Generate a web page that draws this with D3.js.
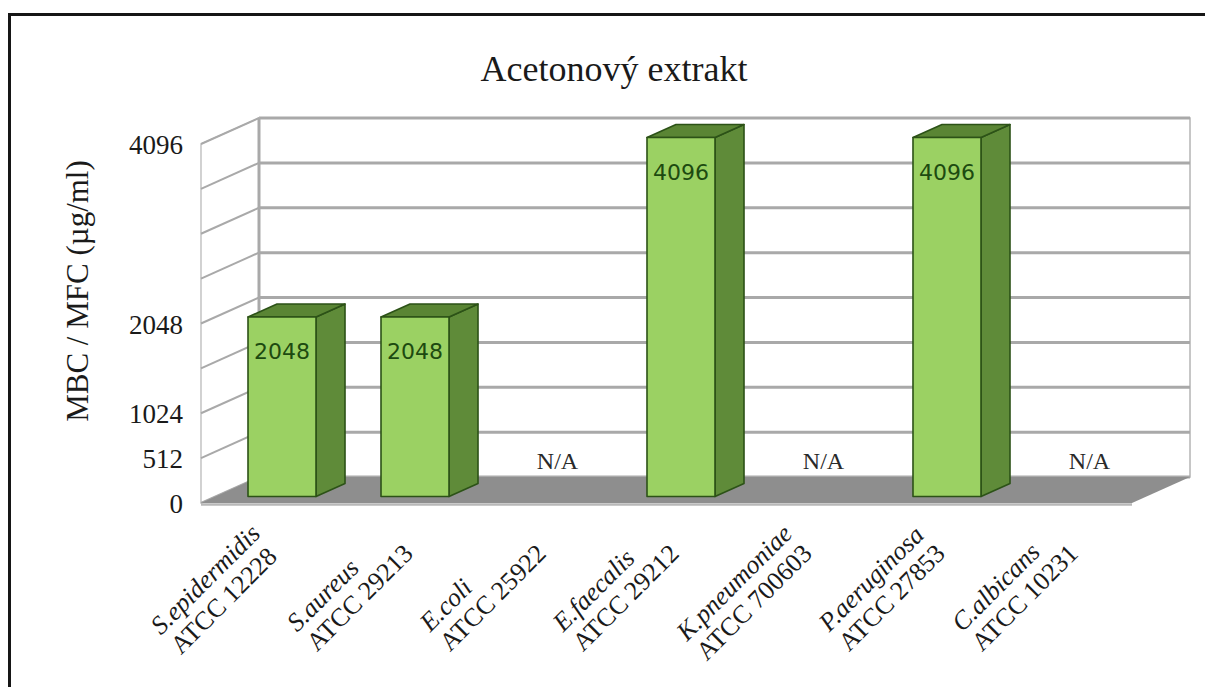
<!DOCTYPE html>
<html>
<head>
<meta charset="utf-8">
<script src="https://cdn.jsdelivr.net/npm/d3@7"></script>
<style>
  html, body { margin: 0; padding: 0; background: #fff; }
  svg { display: block; }
</style>
</head>
<body>
<svg id="chart" width="1205" height="687"></svg>
<script>
// ---- data ----
const species = ["S.epidermidis", "S.aureus", "E.coli", "E.faecalis", "K.pneumoniae", "P.aeruginosa", "C.albicans"];
const strains = ["ATCC 12228", "ATCC 29213", "ATCC 25922", "ATCC 29212", "ATCC 700603", "ATCC 27853", "ATCC 10231"];
const values = [2048, 2048, null, 4096, null, 4096, null];
const gridTicks = [0, 512, 1024, 1536, 2048, 2560, 3072, 3584, 4096];
const tickLabels = [0, 512, 1024, 2048, 4096];
const titleText = "Acetonový extrakt";
const yTitleText = "MBC / MFC (µg/ml)";
const naText = "N/A";

// ---- layout ----
const svg = d3.select("#chart");
const serif = "'Liberation Serif', 'Times New Roman', serif";
const sans = "'DejaVu Sans', sans-serif";

const x = d3.scaleBand().domain(species).range([201, 1132]).paddingInner(0.4887).paddingOuter(0.2444);
const y = d3.scaleLinear().domain([0, 4096]).range([503, 144]);
const depthX = d3.scaleLinear().domain([0, 1]).range([0, 58]);
const depthY = d3.scaleLinear().domain([0, 1]).range([0, -26]);

const [x0, x1] = x.range();
const dX = depthX(1), dY = depthY(1);

// outer frame
svg.append("rect").attr("x", 9.5).attr("y", 14.5).attr("width", 1400).attr("height", 900)
  .attr("fill", "none").attr("stroke", "#161616").attr("stroke-width", 3);

// title
svg.append("text").attr("x", 614).attr("y", 81).attr("text-anchor", "middle")
  .attr("font-family", serif).attr("font-size", 36).attr("fill", "#1a1a1a").text(titleText);

// y axis title
svg.append("text").attr("transform", "translate(88,291) rotate(-90)").attr("text-anchor", "middle")
  .attr("font-family", serif).attr("font-size", 31).attr("fill", "#1a1a1a").text(yTitleText);

const grid = "#a9a9a9";

// back wall
svg.append("rect").attr("x", x0 + dX).attr("y", y(4096) + dY).attr("width", x1 - x0).attr("height", y(0) - y(4096))
  .attr("fill", "#fff").attr("stroke", "#b4b4b4").attr("stroke-width", 1.5);
svg.append("g").selectAll("line").data(gridTicks).join("line")
  .attr("x1", x0 + dX).attr("x2", x1 + dX)
  .attr("y1", d => y(d) + dY).attr("y2", d => y(d) + dY)
  .attr("stroke", grid).attr("stroke-width", 3);

// left wall
svg.append("polygon")
  .attr("points", [[x0, y(0)], [x0 + dX, y(0) + dY], [x0 + dX, y(4096) + dY], [x0, y(4096)]].map(p => p.join(",")).join(" "))
  .attr("fill", "#fff").attr("stroke", "#b4b4b4").attr("stroke-width", 1.2);
svg.append("g").selectAll("line").data(gridTicks).join("line")
  .attr("x1", x0).attr("x2", x0 + dX)
  .attr("y1", d => y(d)).attr("y2", d => y(d) + dY)
  .attr("stroke", grid).attr("stroke-width", 2);
svg.append("line").attr("x1", x0 + dX).attr("x2", x0 + dX).attr("y1", y(0) + dY).attr("y2", y(4096) + dY)
  .attr("stroke", grid).attr("stroke-width", 3);

// floor
svg.append("polygon")
  .attr("points", [[x0, y(0)], [x1, y(0)], [x1 + dX, y(0) + dY], [x0 + dX, y(0) + dY]].map(p => p.join(",")).join(" "))
  .attr("fill", "#8e8e8e");
svg.append("line").attr("x1", x0).attr("x2", x1).attr("y1", y(0) + 1.5).attr("y2", y(0) + 1.5)
  .attr("stroke", "#b8b8b8").attr("stroke-width", 2.5);

// tick labels
svg.append("g").selectAll("text").data(tickLabels).join("text")
  .attr("x", 183).attr("y", d => y(d) + 10).attr("text-anchor", "end")
  .attr("font-family", serif).attr("font-size", 27).attr("fill", "#1a1a1a").text(d => d);

// bars
const dFront = 0.25, dBack = 0.75;
const fx = depthX(dFront), fy = depthY(dFront);
const bx = depthX(dBack) - fx, by = depthY(dBack) - fy;
const bw = x.bandwidth();
const rows = species.map((s, i) => ({ s, strain: strains[i], v: values[i] }));
const barG = svg.append("g");
rows.filter(d => d.v != null).forEach(d => {
  const L = x(d.s) + fx, R = L + bw, T = y(d.v) + fy, B = y(0) + fy;
  const g = barG.append("g").attr("stroke", "#2c5217").attr("stroke-width", 1.6).attr("stroke-linejoin", "round");
  g.append("polygon").attr("points", [[R, T], [R + bx, T + by], [R + bx, B + by], [R, B]].map(p => p.join(",")).join(" "))
    .attr("fill", "#5f8b39");
  g.append("polygon").attr("points", [[L, T], [L + bx, T + by], [R + bx, T + by], [R, T]].map(p => p.join(",")).join(" "))
    .attr("fill", "#5a8534");
  g.append("rect").attr("x", L).attr("y", T).attr("width", bw).attr("height", B - T).attr("fill", "#9bd163");
  barG.append("text").attr("x", L + bw / 2).attr("y", T + 42).attr("text-anchor", "middle")
    .attr("font-family", sans).attr("font-size", 22).attr("fill", "#1d4a10").text(d.v);
});

// N/A labels
svg.append("g").selectAll("text").data(rows.filter(d => d.v == null)).join("text")
  .attr("x", d => x(d.s) + bw / 2 + 24).attr("y", 469).attr("text-anchor", "middle")
  .attr("font-family", serif).attr("font-size", 24).attr("fill", "#2a2a2a").text(naText);

// category labels (rotated, two lines)
const catG = svg.append("g");
rows.forEach(d => {
  const cx = x(d.s) + bw / 2 + 14, cy = 555;
  const g = catG.append("g").attr("transform", `translate(${cx},${cy}) rotate(-45)`);
  const t1 = g.append("text").attr("y", -28).attr("font-family", serif).attr("font-style", "italic")
    .attr("font-size", 26).attr("fill", "#1a1a1a").text(d.s);
  const t2 = g.append("text").attr("y", 0).attr("font-family", serif)
    .attr("font-size", 26).attr("fill", "#1a1a1a").text(d.strain);
  const w = Math.max(t1.node().getComputedTextLength(), t2.node().getComputedTextLength());
  t1.attr("x", -w);
  t2.attr("x", -w);
});
</script>
</body>
</html>
